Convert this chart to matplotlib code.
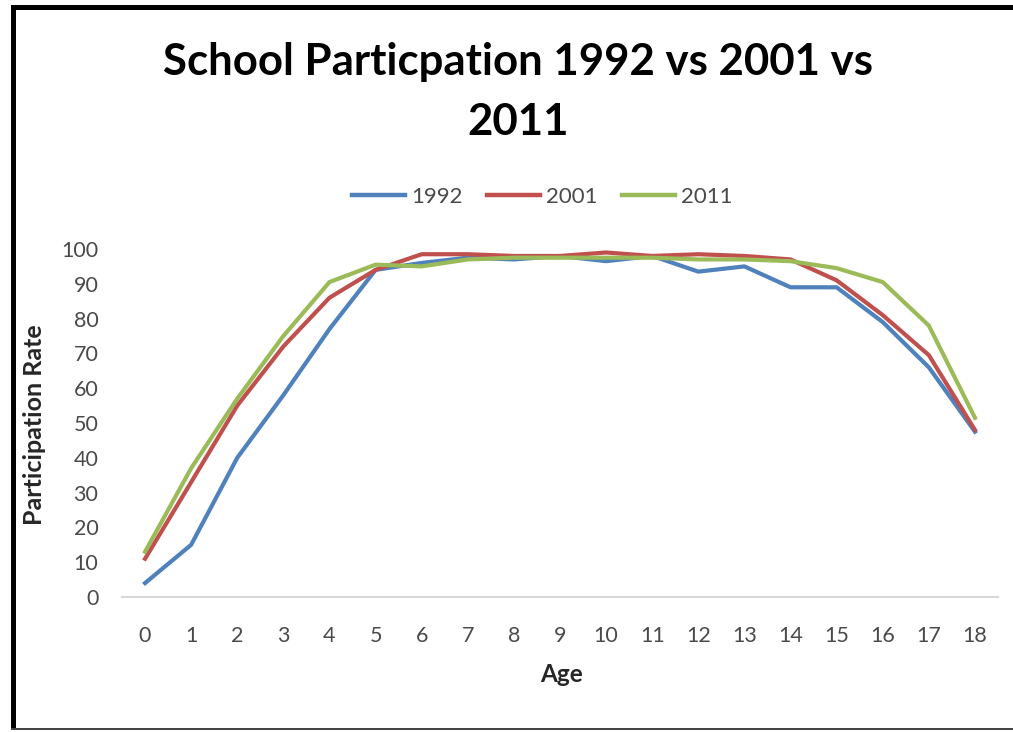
"""School participation by age, 1992 vs 2001 vs 2011 (Excel-style line chart)."""

import matplotlib.pyplot as plt
from matplotlib.lines import Line2D
from matplotlib.patches import Rectangle

AGES = list(range(19))
P1992 = [4, 15, 40, 58, 77, 94, 96, 97.5, 97, 98, 96.5, 98, 93.5, 95, 89, 89, 79, 66, 47.5]
P2001 = [11, 33, 55, 72, 86, 94, 98.5, 98.5, 98, 98, 99, 98, 98.5, 98, 97, 91, 81, 69.5, 48]
P2011 = [13, 37, 57, 75, 90.5, 95.5, 95, 97, 97.5, 97.5, 97.5, 97.5, 97, 97, 96.5, 94.5, 90.5, 78, 51.5]
SERIES = ["1992", "2001", "2011"]
Y_TICKS = list(range(0, 101, 10))

COLORS = ["#4F81BD", "#C0504D", "#9BBB59"]
FONT = "Lato"
GREY_TXT = "#4a4a4a"

W, H = 1013, 732
fig = plt.figure(figsize=(W / 100, H / 100), dpi=100)
fig.patch.set_facecolor("white")

# screenshot frame: thick black top/left, thin dark bottom
fig.add_artist(Rectangle((11 / W, 1 - 10 / H), 1, 5 / H, transform=fig.transFigure,
                         facecolor="black", edgecolor="none"))
fig.add_artist(Rectangle((11 / W, 3 / H), 5 / W, 1 - 8 / H, transform=fig.transFigure,
                         facecolor="black", edgecolor="none"))
fig.add_artist(Rectangle((11 / W, 2 / H), 1, 2 / H, transform=fig.transFigure,
                         facecolor="#444444", edgecolor="none"))

ax = fig.add_axes([122 / W, (H - 597) / H, 876 / W, 348 / H])
for vals, c in zip([P1992, P2001, P2011], COLORS):
    ax.plot(AGES, vals, color=c, linewidth=3.0, solid_joinstyle="round")

ax.set_xlim(-0.5, 18.5)
ax.set_ylim(0, 100)
ax.set_yticks(Y_TICKS)
ax.set_xticks(AGES)
ax.tick_params(length=0)
ax.tick_params(axis="y", pad=17)
ax.tick_params(axis="x", pad=21)
for lab in ax.get_xticklabels() + ax.get_yticklabels():
    lab.set_fontfamily(FONT)
    lab.set_fontsize(15.5)
    lab.set_color(GREY_TXT)
for s in ["top", "right", "left"]:
    ax.spines[s].set_visible(False)
ax.spines["bottom"].set_color("#D9D9D9")
ax.spines["bottom"].set_linewidth(1.5)

fig.text(35 / W, 1 - 425 / H, "Participation Rate", rotation=90, ha="center", va="center",
         family=FONT, fontweight="bold", fontsize=18, color="#262626")
fig.text(562 / W, 1 - 675 / H, "Age", ha="center", va="center",
         family=FONT, fontweight="bold", fontsize=17.5, color="#262626")

fig.text(518 / W, 1 - 75 / H, "School Particpation 1992 vs 2001 vs", ha="center",
         va="baseline", family=FONT, fontweight="bold", fontsize=31.5, color="black")
fig.text(518 / W, 1 - 135 / H, "2011", ha="center", va="baseline",
         family=FONT, fontweight="bold", fontsize=31.5, color="black")

handles = [Line2D([], [], color=c, linewidth=3.2) for c in COLORS]
fig.legend(handles, SERIES, loc="center", bbox_to_anchor=(542 / W, 1 - 197 / H), ncol=3,
           frameon=False, handlelength=2.4, handletextpad=0.25, columnspacing=1.1,
           prop={"family": FONT, "size": 16}, labelcolor=GREY_TXT)

fig.savefig("out.png", dpi=100, facecolor="white")
